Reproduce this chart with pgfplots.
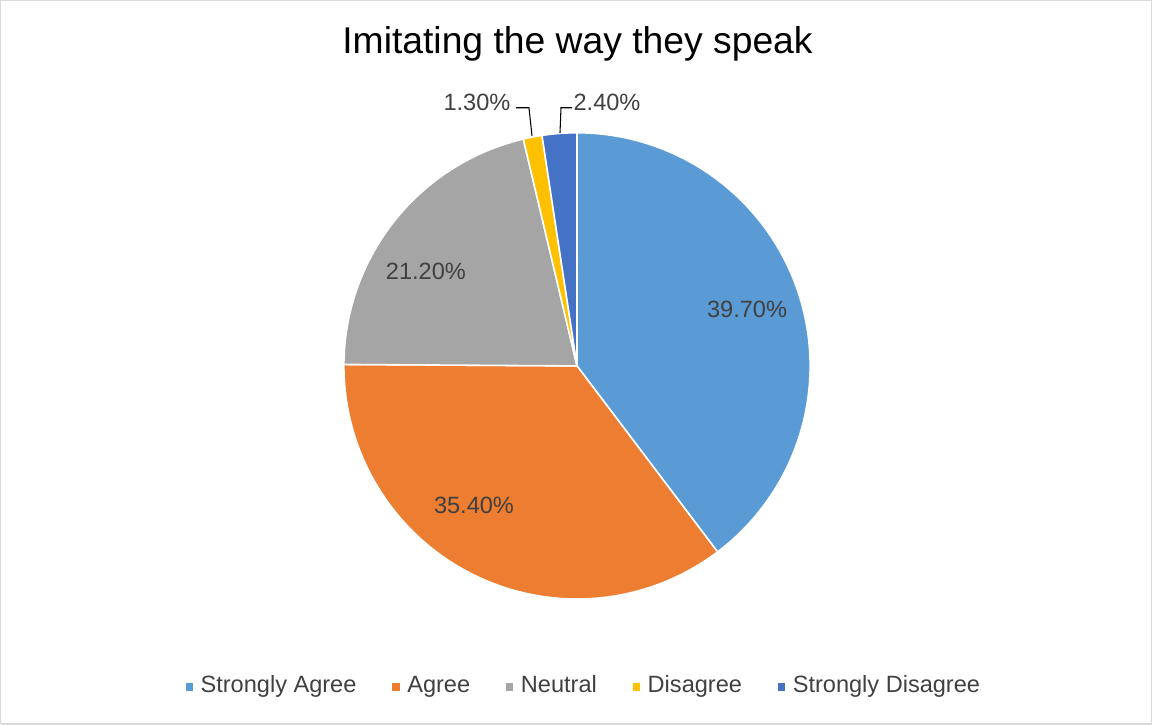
\documentclass[border=0pt]{standalone}
\usepackage{pgfplots}
\usepackage{pgfplotstable}
\pgfplotsset{compat=1.18}
\usepackage{fontspec}
\setmainfont{Liberation Sans}
\definecolor{cSA}{HTML}{5B9BD5}
\definecolor{cA}{HTML}{ED7D31}
\definecolor{cN}{HTML}{A5A5A5}
\definecolor{cD}{HTML}{FFC000}
\definecolor{cSD}{HTML}{4472C4}
\definecolor{txt}{HTML}{404040}
\definecolor{brd}{HTML}{D9D9D9}

\pgfplotstableread{
label value
SA 39.7
A 35.4
N 21.2
D 1.3
SD 2.4
}\piedata

% cumulative angles (clockwise from 90 degrees)
\def\startang{90}
\foreach \i in {0,...,4}{%
  \pgfplotstablegetelem{\i}{value}\of\piedata
  \pgfmathsetmacro{\tmpend}{\startang-3.6*\pgfplotsretval}%
  \expandafter\xdef\csname s\romannumeral\numexpr\i+1\relax\endcsname{\startang}%
  \expandafter\xdef\csname e\romannumeral\numexpr\i+1\relax\endcsname{\tmpend}%
  \xdef\startang{\tmpend}%
}

\begin{document}
\begin{tikzpicture}
\begin{axis}[
  scale only axis, width=11.52cm, height=7.25cm,
  xmin=0, xmax=1152, ymin=0, ymax=725,
  axis lines=none, clip=false,
  legend columns=5,
  legend style={draw=none, fill=none, at={(axis cs:582,38)}, anchor=center,
    font=\fontsize{6.7}{8}\selectfont, text=txt,
    nodes={inner sep=0pt},
    /tikz/every odd column/.append style={column sep=1.7pt},
    /tikz/every even column/.append style={column sep=9.7pt},
    inner sep=0pt},
  legend image code/.code={\fill[#1] (0pt,-1.3pt) rectangle (2.6pt,1.3pt);},
]
\addplot[draw=brd, line width=0.4pt, forget plot] coordinates {(1,1) (1151,1) (1151,724) (1,724) (1,1)};

\addplot[fill=cSA, draw=white, line width=0.45pt, domain=\ei:\si, samples=120, variable=\t]
  ({577+233*cos(\t)}, {359+233*sin(\t)}) -- (axis cs:577,359) -- cycle;
\addplot[fill=cA, draw=white, line width=0.45pt, domain=\eii:\sii, samples=120, variable=\t]
  ({577+233*cos(\t)}, {359+233*sin(\t)}) -- (axis cs:577,359) -- cycle;
\addplot[fill=cN, draw=white, line width=0.45pt, domain=\eiii:\siii, samples=80, variable=\t]
  ({577+233*cos(\t)}, {359+233*sin(\t)}) -- (axis cs:577,359) -- cycle;
\addplot[fill=cD, draw=white, line width=0.45pt, domain=\eiv:\siv, samples=10, variable=\t]
  ({577+233*cos(\t)}, {359+233*sin(\t)}) -- (axis cs:577,359) -- cycle;
\addplot[fill=cSD, draw=white, line width=0.45pt, domain=\ev:\sv, samples=12, variable=\t]
  ({577+233*cos(\t)}, {359+233*sin(\t)}) -- (axis cs:577,359) -- cycle;

\legend{Strongly Agree, Agree, Neutral, Disagree, Strongly Disagree}

% leader lines
\addplot[draw=black, line width=0.3pt, forget plot] coordinates {(516,617) (529,617) (532,589)};
\addplot[draw=black, line width=0.3pt, forget plot] coordinates {(560,592) (561,617) (572,617)};

\node[font=\fontsize{10.6}{12}\selectfont, anchor=base] at (axis cs:577.5,671) {Imitating the way they speak};
\begin{scope}[every node/.style={font=\fontsize{6.7}{8}\selectfont, text=txt}]
\node at (axis cs:747,415) {39.70\%};
\node at (axis cs:474,220) {35.40\%};
\node at (axis cs:426,453) {21.20\%};
\node at (axis cs:477,622) {1.30\%};
\node at (axis cs:607,622) {2.40\%};
\end{scope}
\end{axis}
\end{tikzpicture}
\end{document}
